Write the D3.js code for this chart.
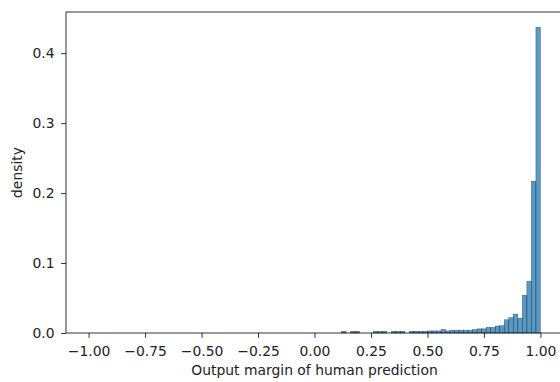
<!DOCTYPE html>
<html>
<head>
<meta charset="utf-8">
<script src="https://cdn.jsdelivr.net/npm/d3@7"></script>
<style>
	body { margin: 0; background: #fff; }
	svg { display: block; font-family: "DejaVu Sans", sans-serif; }
</style>
</head>
<body>
<div id="chart"></div>
<script>
// histogram bins: 100 bins of width 0.02 over [-1, 1]
const binFirst = -1;
const binWidth = 0.02;
const binCount = 100;

// non-zero part of the histogram, starting at bin 0.12
const densityStart = 0.12;
const densities = [
	0.0025, 0, 0.0025, 0.0025, 0, 0, 0, 0.0025, 0.0025, 0.0025,
	0, 0.0025, 0.0025, 0.0025, 0, 0.0025, 0.0025, 0.0025, 0.0025, 0.003,
	0.003, 0.003, 0.005, 0.003, 0.004, 0.004, 0.004, 0.004, 0.004, 0.005,
	0.006, 0.006, 0.008, 0.008, 0.010, 0.0105, 0.019, 0.022, 0.027, 0.021,
	0.054, 0.074, 0.217, 0.437
];

const xTicks = [-1, -0.75, -0.5, -0.25, 0, 0.25, 0.5, 0.75, 1];
const yTicks = [0, 0.1, 0.2, 0.3, 0.4];

const width = 560;
const height = 382;
const margin = {top: 12, right: -3, bottom: 49, left: 66};
const fontSize = '13.9px';

let bins = d3.range(binCount).map((i) => {
	let x0 = +(binFirst + i * binWidth).toFixed(2);
	let k = Math.round((x0 - densityStart) / binWidth);
	return {x0: x0, x1: x0 + binWidth, value: (k >= 0 && k < densities.length) ? densities[k] : 0};
});

let svg = d3.select('#chart').append('svg')
	.attr('width', width)
	.attr('height', height);

let x = d3.scaleLinear()
	.domain([-1.1, 1.1])
	.range([margin.left, width - margin.right]);

let y = d3.scaleLinear()
	.domain([0, d3.max(densities) * 1.05])
	.range([height - margin.bottom, margin.top]);

let fmtMinus = (s) => s.replace('-', '\u2212');

svg.append('g')
	.selectAll('rect')
	.data(bins.filter((d) => d.value > 0))
	.join('rect')
	.attr('x', (d) => x(d.x0))
	.attr('y', (d) => y(d.value))
	.attr('width', (d) => x(d.x1) - x(d.x0))
	.attr('height', (d) => y(0) - y(d.value))
	.attr('fill', '#1f77b4')
	.attr('fill-opacity', 0.75)
	.attr('stroke', '#000')
	.attr('stroke-opacity', 0.45)
	.attr('stroke-width', 0.6);

let xAxis = svg.append('g')
	.attr('transform', `translate(0,${height - margin.bottom})`)
	.call(d3.axisBottom(x).tickValues(xTicks).tickSizeOuter(0).tickSize(4.9).tickPadding(7.8)
		.tickFormat((d) => fmtMinus(d3.format('.2f')(d))));

let yAxis = svg.append('g')
	.attr('transform', `translate(${margin.left},0)`)
	.call(d3.axisLeft(y).tickValues(yTicks).tickSizeOuter(0).tickSize(4.9).tickPadding(6.5)
		.tickFormat(d3.format('.1f')));

[xAxis, yAxis].forEach((g) => {
	g.select('.domain').remove();
	g.selectAll('line').attr('stroke', '#000').attr('stroke-width', 0.8);
	g.selectAll('text')
		.attr('fill', '#222')
		.style('font-size', fontSize)
		.style('font-family', '"DejaVu Sans", sans-serif');
});

// spines
svg.append('rect')
	.attr('x', x.range()[0])
	.attr('y', margin.top)
	.attr('width', x.range()[1] - x.range()[0])
	.attr('height', y(0) - margin.top)
	.attr('fill', 'none')
	.attr('stroke', '#000')
	.attr('stroke-width', 0.8);

svg.append('text')
	.attr('x', (x(-1) + x(1)) / 2)
	.attr('y', 375)
	.attr('text-anchor', 'middle')
	.attr('fill', '#222')
	.style('font-size', fontSize)
	.text('Output margin of human prediction');

svg.append('text')
	.attr('transform', `translate(22,${(margin.top + y(0)) / 2}) rotate(-90)`)
	.attr('text-anchor', 'middle')
	.attr('fill', '#222')
	.style('font-size', fontSize)
	.text('density');
</script>
</body>
</html>
